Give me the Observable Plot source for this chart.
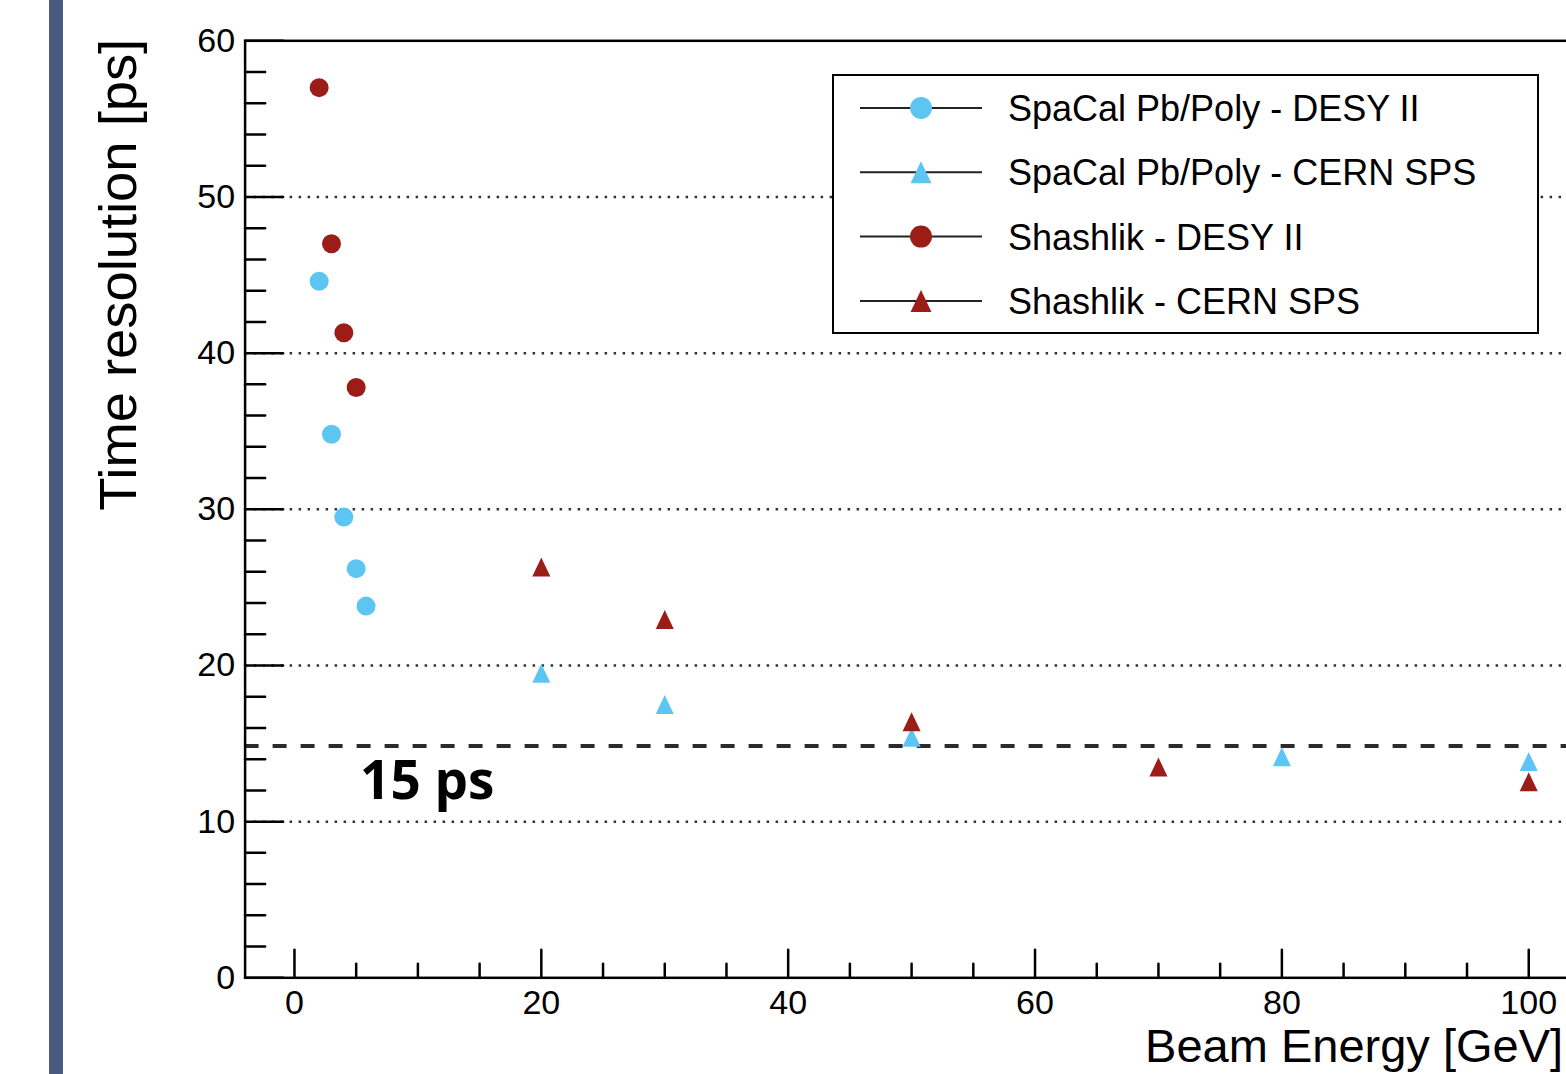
<!DOCTYPE html>
<html><head><meta charset="utf-8">
<script src="https://cdn.jsdelivr.net/npm/d3@7"></script>
<script src="https://cdn.jsdelivr.net/npm/@observablehq/plot@0.6"></script>
<style>
html,body{margin:0;padding:0;overflow:hidden;background:#fff;width:1566px;height:1074px}
#bar{position:absolute;left:49px;top:0;width:14px;height:1074px;background:#485a80;z-index:2}
#chart{position:absolute;left:0;top:0;width:1580px;height:1074px}
#chart svg{max-width:none !important;width:1580px !important;height:1074px !important}
</style></head><body><div id="bar"></div><div id="chart"></div>
<script>
// ---- data ----
const seriesNames = ["SpaCal Pb/Poly - DESY II", "SpaCal Pb/Poly - CERN SPS", "Shashlik - DESY II", "Shashlik - CERN SPS"];
const spacalDesyEnergy = [2, 3, 4, 5, 5.8];
const spacalDesyRes = [44.6, 34.8, 29.5, 26.2, 23.8];
const spacalSpsEnergy = [20, 30, 50, 80, 100];
const spacalSpsRes = [19.5, 17.5, 15.4, 14.15, 13.85];
const shashlikDesyEnergy = [2, 3, 4, 5];
const shashlikDesyRes = [57.0, 47.0, 41.3, 37.8];
const shashlikSpsEnergy = [20, 30, 50, 70, 100];
const shashlikSpsRes = [26.3, 22.95, 16.4, 13.5, 12.55];
const xTicks = [0, 20, 40, 60, 80, 100];
const yTicks = [0, 10, 20, 30, 40, 50, 60];
const gridValues = [10, 20, 30, 40, 50];
const threshold = 14.85;
const thresholdLabel = "15 ps";
const xLabel = "Beam Energy [GeV]";
const yLabel = "Time resolution [ps]";

// ---- styling ----
const BLUE = "#5cc5f2", RED = "#9c1c17";
const FONT = "Liberation Sans, Arial, Helvetica, sans-serif";
const triangle = {
  draw(ctx, size) {
    const r = Math.sqrt(size / Math.PI);
    ctx.moveTo(0, -r); ctx.lineTo(0.95 * r, r); ctx.lineTo(-0.95 * r, r); ctx.closePath();
  }
};
const seriesStyle = [
  {color: BLUE, symbol: d3.symbolCircle, E: spacalDesyEnergy, T: spacalDesyRes},
  {color: BLUE, symbol: triangle, E: spacalSpsEnergy, T: spacalSpsRes},
  {color: RED, symbol: d3.symbolCircle, E: shashlikDesyEnergy, T: shashlikDesyRes},
  {color: RED, symbol: triangle, E: shashlikSpsEnergy, T: shashlikSpsRes}
];
const points = [];
seriesStyle.forEach((s, i) => s.E.forEach((e, j) => points.push({series: seriesNames[i], energy: e, res: s.T[j], color: s.color, symbol: s.symbol})));

const xMinor = d3.range(5, 100, 5).filter(v => v % 20 !== 0);
const yMinor = d3.range(2, 60, 2).filter(v => v % 10 !== 0);
const tickShape = {draw(ctx, l) { ctx.moveTo(0, 0); ctx.lineTo(0, -l); }};

const W = 1580, H = 1074;
const mL = 244.6, mT = 40.3, mB = 96.7, mR = 2.4;

const svg = Plot.plot({
  width: W, height: H,
  marginLeft: mL, marginTop: mT, marginBottom: mB, marginRight: mR,
  x: {domain: [-4, 104], axis: null},
  y: {domain: [0, 60], axis: null},
  style: {fontFamily: FONT, background: "transparent", overflow: "hidden", maxWidth: "none"},
  marks: [
    Plot.ruleY(gridValues, {y: d => d, stroke: "#333", strokeWidth: 2.5, strokeDasharray: "2.5,6.5"}),
    Plot.ruleY([threshold], {y: d => d, stroke: "#2b2b2b", strokeWidth: 4, strokeDasharray: "14,14"}),
    Plot.dot(points, {x: "energy", y: "res", r: 9.5, fill: d => d.color, symbol: d => d.symbol, stroke: null}),
    Plot.frame({stroke: "#000", strokeWidth: 2.5}),
    Plot.vector(xTicks, {x: d => d, frameAnchor: "bottom", length: 28, rotate: 0, anchor: "start", shape: tickShape, stroke: "#000", strokeWidth: 2.5}),
    Plot.vector(xMinor, {x: d => d, frameAnchor: "bottom", length: 14, rotate: 0, anchor: "start", shape: tickShape, stroke: "#000", strokeWidth: 2.5}),
    Plot.vector(yTicks, {y: d => d, frameAnchor: "left", length: 38, rotate: 90, anchor: "start", shape: tickShape, stroke: "#000", strokeWidth: 2.5}),
    Plot.vector(yMinor, {y: d => d, frameAnchor: "left", length: 20, rotate: 90, anchor: "start", shape: tickShape, stroke: "#000", strokeWidth: 2.5}),
    Plot.text(xTicks, {x: d => d, text: d => String(d), frameAnchor: "bottom", dy: 12, lineAnchor: "top", fontSize: 34, fill: "#000"}),
    Plot.text(yTicks, {y: d => d, text: d => String(d), frameAnchor: "left", dx: -10, textAnchor: "end", fontSize: 34, fill: "#000"}),
    Plot.text([yLabel], {text: d => d, frameAnchor: "top-left", rotate: -90, textAnchor: "end", lineAnchor: "bottom", dx: -109, dy: -2, fontSize: 51, fill: "#000"}),
    Plot.text([xLabel], {text: d => d, frameAnchor: "bottom-right", textAnchor: "end", lineAnchor: "bottom", dx: -15, dy: 84, fontSize: 47, fill: "#000"}),
    Plot.text([thresholdLabel], {text: d => d, y: () => threshold, frameAnchor: "left", dx: 115, dy: 36, textAnchor: "start", lineAnchor: "middle", fontSize: 53, fontWeight: 700, fontFamily: "Open Sans, Lato, sans-serif", fill: "#000"})
  ]
});
svg.style.maxWidth = "none";

// stretch the rotated y title to the length it has in the reference
d3.select(svg).selectAll("text").filter(function() { return this.textContent === yLabel; })
  .attr("textLength", 472).attr("lengthAdjust", "spacingAndGlyphs");

// ---- legend (inside the frame, opaque box) ----
const g = d3.select(svg).append("g").attr("class", "legend").attr("text-anchor", "start");
const bx = 833, by = 75, bw = 705, bh = 258;
g.append("rect").attr("x", bx).attr("y", by).attr("width", bw).attr("height", bh)
  .attr("fill", "#fff").attr("stroke", "#000").attr("stroke-width", 2);
seriesNames.forEach((name, i) => {
  const cy = 108 + i * 64.3;
  const s = seriesStyle[i];
  g.append("line").attr("x1", 860).attr("x2", 982).attr("y1", cy).attr("y2", cy)
    .attr("stroke", "#222").attr("stroke-width", 2);
  g.append("path").attr("d", d3.symbol(s.symbol, Math.PI * 11 * 11)())
    .attr("transform", `translate(921,${cy})`).attr("fill", s.color);
  g.append("text").attr("x", 1008).attr("y", cy + 13).attr("font-size", 36)
    .attr("text-anchor", "start").attr("font-family", FONT).attr("fill", "#000").text(name);
});

document.getElementById("chart").appendChild(svg);
</script>
</body></html>
